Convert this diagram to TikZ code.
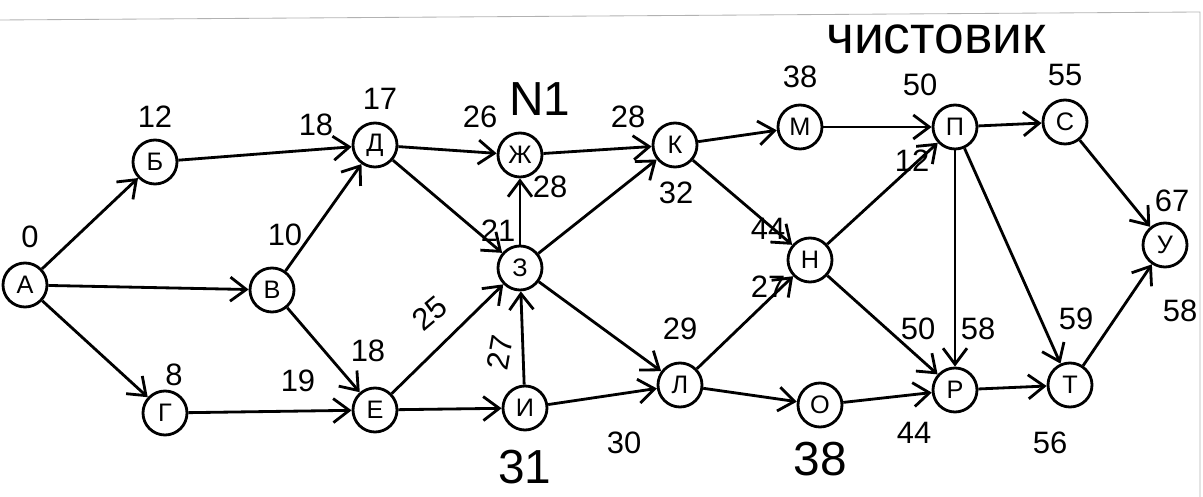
\documentclass[tikz,border=0pt]{standalone}
\usepackage{fontspec}
\setmainfont{Liberation Sans}
\usetikzlibrary{positioning,arrows.meta}

\begin{document}
\begin{tikzpicture}[main/.style = {draw, circle, line width=2pt, minimum size=1.1cm, inner sep=0pt, font=\fontsize{18}{20}\selectfont},
	num/.style = {font=\fontsize{22}{24}\selectfont},
	big/.style = {font=\fontsize{34}{36}\selectfont},
	>={Straight Barb[length=4mm,width=6mm]}, line width=2pt]
			\useasboundingbox (0,0) rectangle (30.075,12.425);
			\draw[gray!60, line width=0.6pt] (0,11.925) -- (30,12.125) -- (30,0);
			\node[main] (a) at (0.625,5.3) {А};
			\node[main] (b) at (3.875,8.375) {Б};
			\node[main] (v) at (6.8,5.175) {В};
			\node[main] (g) at (4.125,2.1) {Г};
			\node[main] (d) at (9.375,8.8) {Д};
			\node[main] (e) at (9.375,2.175) {Е};
			\node[main] (zh) at (13,8.55) {Ж};
			\node[main] (z) at (13,5.725) {З};
			\node[main] (i) at (13.125,2.225) {И};
			\node[main] (k) at (16.875,8.8) {К};
			\node[main] (l) at (17,2.8) {Л};
			\node[main] (m) at (20,9.25) {М};
			\node[main] (n) at (20.25,5.925) {Н};
			\node[main] (o) at (20.5,2.3) {О};
			\node[main] (p) at (23.875,9.25) {П};
			\node[main] (r) at (23.875,2.675) {Р};
			\node[main] (s) at (26.625,9.375) {С};
			\node[main] (t) at (26.75,2.8) {Т};
			\node[main] (u) at (29.125,6.3) {У};
			\node[font=\fontsize{38}{40}\selectfont] (title) at (23.4,11.45) {чистовик};
			\node[num] (ta) at (0.75,6.5) {0};
			\node[num] (tb) at (3.875,9.5) {12};
			\node[num] (tv) at (7.125,6.55) {10};
			\node[num] (tg) at (4.35,3.05) {8};
			\node[num] (td) at (9.5,9.95) {17};
			\node[num] (tbd) at (7.9,9.3) {18};
			\node[num] (tve) at (9.2,3.65) {18};
			\node[num] (tge) at (7.45,2.9) {19};
			\node[num] (tzh) at (12,9.5) {26};
			\node[big] (nr) at (13.5,9.95) {N1};
			\node[num] (tzzh) at (13.75,7.75) {28};
			\node[num] (tz) at (12.45,6.65) {21};
			\node[num, rotate=40, inner sep=1pt] (tez) at (10.75,4.6) {25};
			\node[num, rotate=80, inner sep=1pt] (tiz) at (12.5,3.6) {27};
			\node[big] (ti) at (13.125,0.75) {31};
			\node[num] (tk) at (15.7,9.5) {28};
			\node[num] (tzk) at (16.9,7.6) {32};
			\node[num] (tl) at (17,4.2) {29};
			\node[num] (til) at (15.6,1.35) {30};
			\node[num] (tm) at (20,10.5) {38};
			\node[num] (tn) at (19.2,6.7) {44};
			\node[num] (tln) at (19.2,5.25) {27};
			\node[big] (to) at (20.5,0.95) {38};
			\node[num] (tp) at (23,10.3) {50};
			\node[num] (tnp) at (22.8,8.4) {12};
			\node[num] (tr) at (22.95,4.2) {50};
			\node[num] (tpr) at (24.45,4.2) {58};
			\node[num] (tor) at (22.85,1.6) {44};
			\node[num] (ts) at (26.625,10.55) {55};
			\node[num] (tt) at (26.9,4.45) {59};
			\node[num] (trt) at (26.25,1.35) {56};
			\node[num] (tu) at (29.3,7.4) {67};
			\node[num] (ttu) at (29.5,4.65) {58};
			\draw[->] (a) -- (b);
			\draw[->] (a) -- (v);
			\draw[->] (a) -- (g);
			\draw[->] (b) -- (d);
			\draw[->] (v) -- (d);
			\draw[->] (v) -- (e);
			\draw[->] (g) -- (e);
			\draw[->] (d) -- (zh);
			\draw[->] (d) -- (z);
			\draw[->] (e) -- (z);
			\draw[->] (e) -- (i);
			\draw[->] (i) -- (z);
			\draw[->] (z) -- (zh);
			\draw[->] (zh) -- (k);
			\draw[->] (z) -- (k);
			\draw[->] (z) -- (l);
			\draw[->] (i) -- (l);
			\draw[->] (k) -- (m);
			\draw[->] (k) -- (n);
			\draw[->] (l) -- (n);
			\draw[->] (l) -- (o);
			\draw[->] (m) -- (p);
			\draw[->] (n) -- (p);
			\draw[->] (n) -- (r);
			\draw[->] (o) -- (r);
			\draw[->] (p) -- (s);
			\draw[->] (p) -- (r);
			\draw[->] (p) -- (t);
			\draw[->] (r) -- (t);
			\draw[->] (s) -- (u);
			\draw[->] (t) -- (u);
		\end{tikzpicture}
\end{document}
